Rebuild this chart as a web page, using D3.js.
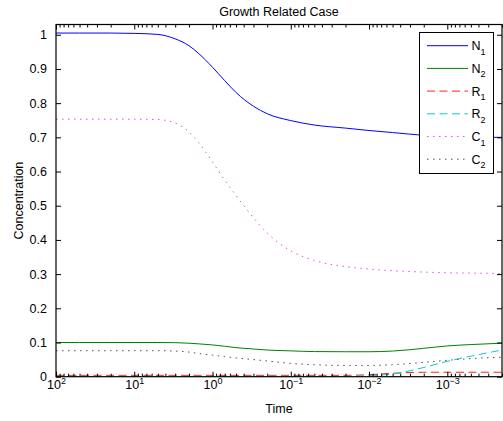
<!DOCTYPE html>
<html>
<head>
<meta charset="utf-8">
<script src="https://cdn.jsdelivr.net/npm/d3@7"></script>
<style>
  html, body { margin: 0; padding: 0; background: #fff; }
  svg { display: block; }
  text { font-family: "Liberation Sans", Arial, Helvetica, sans-serif; fill: #000; }
</style>
</head>
<body>
<svg id="chart" width="503" height="421"></svg>
<script>
// Sample times (log-spaced, plotted on a reversed log axis)
const times = [100, 50, 20, 10, 5, 3, 2, 1.5, 1, 0.7, 0.5, 0.3, 0.2, 0.1, 0.05, 0.02, 0.01, 0.005, 0.002, 0.001, 0.0005, 0.0002];

// Concentrations for each species at the sample times
const n1 = [1.005, 1.005, 1.005, 1.004, 1.001, 0.988, 0.968, 0.945, 0.905, 0.866, 0.831, 0.791, 0.769, 0.749, 0.736, 0.727, 0.720, 0.714, 0.706, 0.702, 0.700, 0.700];
const n2 = [0.100, 0.100, 0.100, 0.100, 0.100, 0.0995, 0.098, 0.096, 0.093, 0.089, 0.085, 0.081, 0.078, 0.0755, 0.0735, 0.073, 0.073, 0.075, 0.083, 0.090, 0.094, 0.098];
const r1 = [0.004, 0.004, 0.004, 0.004, 0.004, 0.004, 0.004, 0.004, 0.004, 0.004, 0.004, 0.004, 0.004, 0.004, 0.004, 0.004, 0.006, 0.010, 0.013, 0.013, 0.013, 0.013];
const r2 = [0.001, 0.001, 0.001, 0.001, 0.001, 0.001, 0.001, 0.001, 0.001, 0.001, 0.001, 0.001, 0.001, 0.001, 0.001, 0.001, 0.003, 0.008, 0.027, 0.045, 0.060, 0.078];
const c1 = [0.753, 0.753, 0.753, 0.753, 0.752, 0.742, 0.716, 0.684, 0.628, 0.575, 0.530, 0.465, 0.420, 0.368, 0.340, 0.322, 0.315, 0.310, 0.306, 0.304, 0.303, 0.302];
const c2 = [0.076, 0.076, 0.076, 0.076, 0.076, 0.075, 0.072, 0.068, 0.063, 0.059, 0.055, 0.050, 0.046, 0.039, 0.035, 0.033, 0.033, 0.035, 0.042, 0.048, 0.053, 0.057];

const seriesBase = ["N", "N", "R", "R", "C", "C"];
const seriesSub = ["1", "2", "1", "2", "1", "2"];

// Axis tick values and labels
const yTicks = [0, 0.1, 0.2, 0.3, 0.4, 0.5, 0.6, 0.7, 0.8, 0.9, 1];
const xMajorExponents = [2, 1, 0, -1, -2, -3];

const titleText = "Growth Related Case";
const xLabel = "Time";
const yLabel = "Concentration";

// Line styles per series
const styles = [
  { color: "#0000ff", dash: null },
  { color: "#008000", dash: null },
  { color: "#ff2020", dash: "8,4.5" },
  { color: "#10c8c8", dash: "8,4.5" },
  { color: "#e050e0", dash: "1.5,4.5" },
  { color: "#505050", dash: "1.5,4.5" }
];
const values = [n1, n2, r1, r2, c1, c2];

const svg = d3.select("#chart");
const pLeft = 56, pRight = 502, pTop = 24.5, pBottom = 376.7;

const x = d3.scaleLog().domain([100, 0.0002]).range([pLeft, pRight]);
const y = d3.scaleLinear().domain([0, 1.03]).range([pBottom, pTop]);

// Clip region for the plot area
svg.append("defs").append("clipPath").attr("id", "plotClip")
  .append("rect").attr("x", pLeft).attr("y", pTop).attr("width", pRight - pLeft).attr("height", pBottom - pTop);

// Series lines
const line = d3.line()
  .x((d, i) => x(times[i]))
  .y(d => y(d))
  .curve(d3.curveMonotoneX);

const plot = svg.append("g").attr("clip-path", "url(#plotClip)");
values.forEach((vals, k) => {
  plot.append("path")
    .datum(vals)
    .attr("d", line)
    .attr("fill", "none")
    .attr("stroke", styles[k].color)
    .attr("stroke-width", 1)
    .attr("stroke-dasharray", styles[k].dash);
});

// Minor tick values on the log axis (2..9 within each decade)
const minorTicks = [];
for (let e = -4; e <= 1; e++) {
  for (let m = 2; m <= 9; m++) {
    const v = m * Math.pow(10, e);
    if (v >= 0.0002 && v <= 100) minorTicks.push(v);
  }
}
const majorTicks = xMajorExponents.map(e => Math.pow(10, e));

function styleAxis(g) {
  g.select(".domain").remove();
  g.selectAll(".tick line").attr("stroke", "#000").attr("stroke-width", 1);
}

// Bottom and top ticks (pointing inward)
svg.append("g").attr("transform", `translate(0,${pBottom})`)
  .call(d3.axisBottom(x).tickValues(minorTicks).tickSize(-3).tickFormat(""))
  .call(styleAxis);
svg.append("g").attr("transform", `translate(0,${pTop})`)
  .call(d3.axisTop(x).tickValues(minorTicks).tickSize(-3).tickFormat(""))
  .call(styleAxis);
const xBottom = svg.append("g").attr("transform", `translate(0,${pBottom})`)
  .call(d3.axisBottom(x).tickValues(majorTicks).tickSize(-5).tickFormat(""))
  .call(styleAxis);
svg.append("g").attr("transform", `translate(0,${pTop})`)
  .call(d3.axisTop(x).tickValues(majorTicks).tickSize(-5).tickFormat(""))
  .call(styleAxis);

// Power-of-ten labels
xBottom.selectAll(".tick").each(function(d) {
  const e = Math.round(Math.log10(d));
  const t = d3.select(this).append("text")
    .attr("y", 12.5)
    .attr("text-anchor", "middle")
    .attr("font-size", 12.5);
  t.append("tspan").text("10");
  t.append("tspan").attr("dy", -5.5).attr("font-size", 9).text(String(e).replace("-", "\u2212"));
});

// Left and right ticks
const yLeft = svg.append("g").attr("transform", `translate(${pLeft},0)`)
  .call(d3.axisLeft(y).tickValues(yTicks).tickSize(-5).tickPadding(9).tickFormat(d3.format("~g")))
  .call(styleAxis);
yLeft.selectAll(".tick text").attr("font-size", 12.5).attr("font-family", "Liberation Sans, Arial, sans-serif");
svg.append("g").attr("transform", `translate(${pRight},0)`)
  .call(d3.axisRight(y).tickValues(yTicks).tickSize(-5).tickFormat(""))
  .call(styleAxis);

// Axes box
svg.append("rect")
  .attr("x", pLeft).attr("y", pTop)
  .attr("width", pRight - pLeft).attr("height", pBottom - pTop)
  .attr("fill", "none").attr("stroke", "#000").attr("stroke-width", 1.2);

// Title and axis labels
svg.append("text").attr("x", (pLeft + pRight) / 2).attr("y", 16)
  .attr("text-anchor", "middle").attr("font-size", 12.5).text(titleText);
svg.append("text").attr("x", (pLeft + pRight) / 2).attr("y", 413)
  .attr("text-anchor", "middle").attr("font-size", 12.5).text(xLabel);
svg.append("text")
  .attr("transform", `translate(23,${(pTop + pBottom) / 2}) rotate(-90)`)
  .attr("text-anchor", "middle").attr("font-size", 12.5).text(yLabel);

// Legend
const lg = svg.append("g");
lg.append("rect").attr("x", 419.5).attr("y", 32.5).attr("width", 74).attr("height", 141)
  .attr("fill", "#fff").attr("stroke", "#000").attr("stroke-width", 1);
seriesBase.forEach((b, k) => {
  const ly = 45.7 + k * 22.7;
  lg.append("line").attr("x1", 427).attr("x2", 468).attr("y1", ly).attr("y2", ly)
    .attr("stroke", styles[k].color).attr("stroke-width", 1)
    .attr("stroke-dasharray", styles[k].dash);
  const t = lg.append("text").attr("x", 471.5).attr("y", ly + 4.5).attr("font-size", 12.5);
  t.append("tspan").text(b);
  t.append("tspan").attr("dy", 4.5).attr("font-size", 9).text(seriesSub[k]);
});
</script>
</body>
</html>
